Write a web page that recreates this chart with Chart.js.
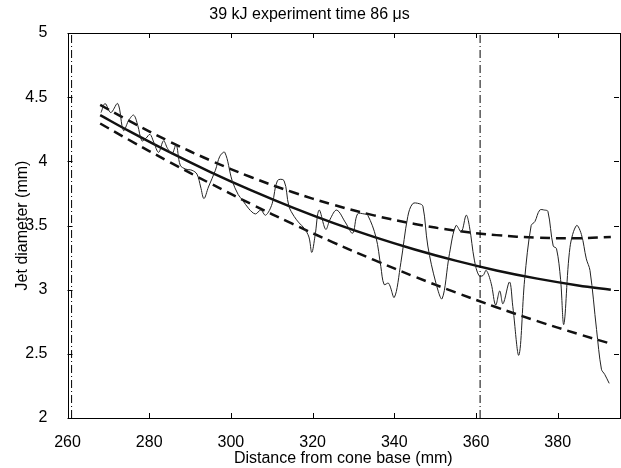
<!DOCTYPE html>
<html>
<head>
<meta charset="utf-8">
<script src="https://cdn.jsdelivr.net/npm/chart.js@4"></script>
<style>
  html, body { margin: 0; padding: 0; background: #fff; }
</style>
</head>
<body>
<canvas id="jetChart" width="621" height="468"></canvas>
<script>
// axis ticks
const xTicks = [260, 280, 300, 320, 340, 360, 380];
const yTicks = [2, 2.5, 3, 3.5, 4, 4.5, 5];

// fitted curve and its bounds
const fitX = [268, 275, 285, 295, 305, 315, 325, 335, 345, 355, 365, 375, 385, 393];
const fitMid = [4.36, 4.237, 4.071, 3.916, 3.773, 3.641, 3.52, 3.411, 3.313, 3.226, 3.15, 3.086, 3.033, 3.0];
const fitUpper = [4.44, 4.317, 4.154, 4.007, 3.876, 3.761, 3.662, 3.579, 3.512, 3.46, 3.425, 3.405, 3.401, 3.41];
const fitLower = [4.295, 4.168, 3.994, 3.827, 3.667, 3.514, 3.369, 3.232, 3.101, 2.979, 2.863, 2.755, 2.655, 2.579];

// measured jet diameter
const measX = [268.2, 269.2, 270.6, 272.3, 273.7, 275.0, 276.2, 277.2, 278.2, 279.2, 280.2, 281.1,
  282.3, 283.5, 284.5, 285.6, 286.6, 287.6, 288.9, 290.5, 291.7, 292.6, 293.4, 294.5, 296.2, 297.3,
  298.5, 300.3, 301.8, 302.8, 304.4, 306.0, 307.3, 308.5, 310.1, 311.4, 313.0, 314.2, 315.5, 316.7,
  317.9, 319.1, 319.8, 320.6, 321.6, 323.2, 324.3, 325.9, 328.1, 329.8, 331.0, 332.6, 333.5, 335.5,
  336.7, 337.5, 338.6, 340.0, 341.6, 343.3, 344.5, 346.1, 347.0, 348.2, 350.2, 351.7, 353.5, 355.1,
  356.4, 357.6, 358.4, 359.6, 360.7, 361.7, 362.5, 363.7, 364.8, 365.8, 366.6, 368.2, 369.0, 370.5,
  371.9, 373.5, 374.4, 375.6, 376.8, 377.6, 378.9, 379.7, 380.7, 381.5, 383.0, 384.6, 385.8, 387.0,
  387.9, 389.5, 390.7, 391.5, 392.6];
const measY = [4.38, 4.45, 4.38, 4.45, 4.24, 4.32, 4.36, 4.28, 4.16, 4.18, 4.21, 4.15,
  4.07, 4.16, 4.10, 4.06, 4.13, 3.97, 3.94, 3.93, 3.90, 3.80, 3.71, 3.80, 3.93, 4.04,
  4.07, 3.85, 3.74, 3.70, 3.63, 3.59, 3.62, 3.58, 3.67, 3.85, 3.85, 3.65, 3.57, 3.52,
  3.48, 3.41, 3.29, 3.42, 3.62, 3.47, 3.55, 3.62, 3.52, 3.44, 3.59, 3.59, 3.58, 3.41,
  3.18, 3.04, 3.05, 2.94, 3.21, 3.57, 3.67, 3.67, 3.65, 3.34, 3.05, 2.93, 3.28, 3.50,
  3.45, 3.58, 3.49, 3.23, 3.11, 3.11, 3.15, 3.05, 2.88, 2.99, 2.89, 3.06, 2.87, 2.49,
  3.08, 3.50, 3.53, 3.62, 3.62, 3.61, 3.34, 3.32, 3.08, 2.73, 3.33, 3.50, 3.43, 3.24,
  3.15, 2.69, 2.38, 2.34, 2.27];

// vertical markers
const markerX = [261, 361];

const toPts = (xs, ys) => xs.map((x, i) => ({ x, y: ys[i] }));

// MATLAB style box with inward ticks
const boxTicks = {
  id: "boxTicks",
  afterDatasetsDraw(chart) {
    const { ctx, chartArea: a, scales: { x, y } } = chart;
    ctx.save();
    ctx.strokeStyle = "#000";
    ctx.lineWidth = 1;
    ctx.beginPath();
    xTicks.forEach((v) => {
      const px = Math.round(x.getPixelForValue(v)) + 0.5;
      ctx.moveTo(px, a.bottom);
      ctx.lineTo(px, a.bottom - 5);
      ctx.moveTo(px, a.top);
      ctx.lineTo(px, a.top + 5);
    });
    yTicks.forEach((v) => {
      const py = Math.round(y.getPixelForValue(v)) + 0.5;
      ctx.moveTo(a.left, py);
      ctx.lineTo(a.left + 5, py);
      ctx.moveTo(a.right, py);
      ctx.lineTo(a.right - 5, py);
    });
    ctx.stroke();
    ctx.strokeRect(Math.round(a.left) + 0.5, Math.round(a.top) + 0.5,
      Math.round(a.right - a.left), Math.round(a.bottom - a.top));
    ctx.restore();
  },
};

const font = { family: "'Liberation Sans', Arial, sans-serif", size: 16 };

new Chart(document.getElementById("jetChart"), {
  type: "scatter",
  data: {
    datasets: [
      ...markerX.map((m) => ({
        data: [{ x: m, y: 2 }, { x: m, y: 5 }],
        showLine: true,
        borderColor: "#000",
        borderWidth: 1,
        borderDash: [8, 3, 1, 3],
        pointRadius: 0,
      })),
      {
        data: toPts(measX, measY),
        showLine: true,
        borderColor: "#222",
        borderWidth: 1,
        tension: 0.35,
        pointRadius: 0,
      },
      {
        data: toPts(fitX, fitUpper),
        showLine: true,
        borderColor: "#111",
        borderWidth: 2.5,
        borderDash: [10, 6],
        tension: 0.4,
        pointRadius: 0,
      },
      {
        data: toPts(fitX, fitLower),
        showLine: true,
        borderColor: "#111",
        borderWidth: 2.5,
        borderDash: [10, 6],
        tension: 0.4,
        pointRadius: 0,
      },
      {
        data: toPts(fitX, fitMid),
        showLine: true,
        borderColor: "#111",
        borderWidth: 2.5,
        tension: 0.4,
        pointRadius: 0,
      },
    ],
  },
  options: {
    responsive: false,
    animation: false,
    layout: { padding: { left: 0, right: 2, top: 0, bottom: 0 } },
    plugins: {
      legend: { display: false },
      tooltip: { enabled: false },
      title: {
        display: true,
        text: "39 kJ experiment time 86 μs",
        color: "#000",
        font: { ...font, weight: "normal" },
        padding: { top: 5, bottom: 8.8 },
      },
    },
    scales: {
      x: {
        type: "linear",
        min: 260,
        max: 395,
        afterBuildTicks: (s) => { s.ticks = xTicks.map((v) => ({ value: v })); },
        afterFit: (s) => { s.height = 50; },
        grid: { display: false },
        border: { display: false },
        ticks: { color: "#000", font, padding: 7, maxRotation: 0, autoSkip: false },
        title: {
          display: true,
          text: "Distance from cone base (mm)",
          color: "#000",
          font,
          padding: { top: 0, bottom: 0 },
        },
      },
      y: {
        type: "linear",
        min: 2,
        max: 5,
        afterBuildTicks: (s) => { s.ticks = yTicks.map((v) => ({ value: v })); },
        afterFit: (s) => { s.width = 67.5; },
        grid: { display: false },
        border: { display: false },
        ticks: {
          color: "#000",
          font,
          padding: 12,
          autoSkip: false,
          callback: (v) => String(v),
        },
        title: {
          display: true,
          text: "Jet diameter (mm)",
          color: "#000",
          font,
          padding: { top: 13, bottom: 0 },
        },
      },
    },
  },
  plugins: [boxTicks],
});
</script>
</body>
</html>
